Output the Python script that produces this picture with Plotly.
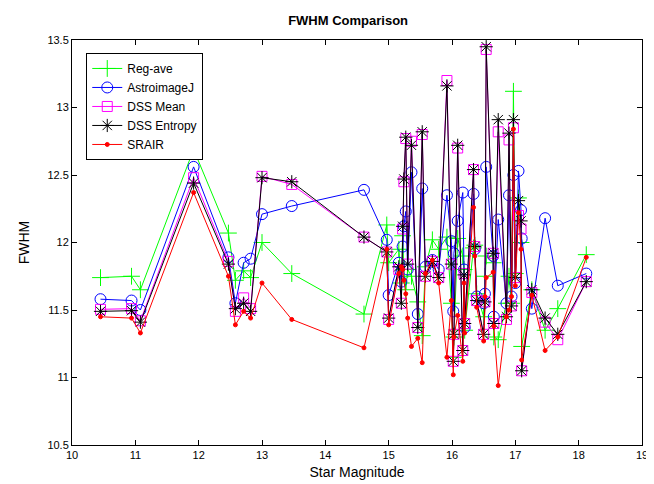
import plotly.graph_objects as go

# star magnitudes (x) and FWHM per method
mag = [10.45, 10.94, 11.08, 11.92, 12.47, 12.58, 12.71, 12.82, 13.00, 13.47,
       14.61, 14.97, 15.00, 15.16, 15.20, 15.22, 15.24, 15.27, 15.30, 15.36,
       15.46, 15.53, 15.58, 15.69, 15.79, 15.92, 15.99, 16.02, 16.03, 16.09,
       16.17, 16.19, 16.20, 16.34, 16.36, 16.39, 16.50, 16.52, 16.54, 16.65,
       16.66, 16.73, 16.86, 16.90, 16.94, 16.97, 17.00, 17.05, 17.09, 17.10,
       17.26, 17.47, 17.67, 18.12]

reg_ave = [11.74, 11.75, 11.65, 12.69, 12.07, 11.72, 11.79, 11.74, 12.00, 11.77,
           11.47, 12.13, 11.85, 11.95, 11.70, 12.05, 11.80, 11.65, 11.80, 11.75,
           11.56, 11.31, 11.82, 12.02, 11.95, 12.04, 11.55, 11.15, 11.30, 12.03,
           11.90, 11.80, 11.35, 11.96, 11.98, 11.62, 11.45, 11.75, 11.90, 11.85,
           11.30, 11.28, 11.55, 11.75, 11.55, 13.12, 11.77, 12.33, 12.00, 11.23,
           11.65, 11.35, 11.51, 11.91]

astroimagej = [11.58, 11.57, 11.50, 12.56, 11.89, 11.55, 11.85, 11.88, 12.21, 12.27,
               12.39, 12.02, 11.61, 11.85, 11.71, 11.97, 12.12, 12.23, 11.80, 12.52,
               11.47, 12.40, 11.82, 11.87, 11.80, 12.35, 12.01, 11.49, 11.92, 12.16,
               12.37, 11.80, 11.37, 12.36, 11.95, 11.60, 11.55, 11.62, 12.56, 11.90,
               11.45, 12.17, 11.55, 12.35, 11.60, 12.50, 11.70, 12.53, 12.24, 12.03,
               11.51, 12.18, 11.68, 11.77]

dss_mean = [11.505, 11.51, 11.42, 12.48, 11.86, 11.49, 11.59, 11.51, 12.49, 12.43,
            12.04, 11.93, 11.43, 11.80, 11.55, 12.10, 12.45, 12.77, 11.84, 12.75,
            11.37, 12.80, 11.75, 11.86, 11.74, 13.20, 11.84, 11.12, 11.32, 12.70,
            11.20, 11.77, 11.40, 12.54, 11.97, 11.57, 11.32, 11.56, 13.43, 11.92,
            11.40, 12.82, 11.43, 12.76, 11.53, 12.85, 11.74, 12.20, 12.10, 11.05,
            11.63, 11.41, 11.28, 11.71]

dss_entropy = [11.49, 11.495, 11.41, 12.44, 11.84, 11.51, 11.55, 11.49, 12.48, 12.45,
               12.04, 11.93, 11.44, 11.82, 11.55, 12.12, 12.47, 12.78, 11.84, 12.72,
               11.37, 12.82, 11.75, 11.86, 11.74, 13.16, 11.84, 11.12, 11.32, 12.72,
               11.20, 11.76, 11.40, 12.54, 11.97, 11.57, 11.32, 11.56, 13.45, 11.92,
               11.40, 12.91, 11.45, 12.81, 11.53, 12.91, 11.74, 12.31, 12.16, 11.05,
               11.65, 11.44, 11.32, 11.71]

srair = [11.45, 11.44, 11.33, 12.37, 11.75, 11.39, 11.49, 11.44, 11.70, 11.43,
         11.22, 11.95, 11.39, 11.77, 11.82, 11.80, 11.72, 11.62, 11.44, 11.23,
         11.29, 11.11, 11.77, 11.87, 11.70, 11.15, 11.57, 11.02, 11.30, 11.46,
         11.12, 11.70, 11.33, 12.26, 11.90, 11.52, 11.27, 11.60, 11.74, 11.78,
         11.38, 10.94, 11.45, 11.50, 11.60, 12.84, 11.68, 12.22, 11.95, 11.13,
         11.61, 11.20, 11.30, 11.89]

x_ticks = [10, 11, 12, 13, 14, 15, 16, 17, 18, 19]
y_ticks = [10.5, 11, 11.5, 12, 12.5, 13, 13.5]
y_labels = ['10.5', '11', '11.5', '12', '12.5', '13', '13.5']

series = [
    ('Reg-ave', reg_ave, '#00ff00', 'cross-thin-open', 12),
    ('AstroimageJ', astroimagej, '#0000ff', 'circle-open', 11),
    ('DSS Mean', dss_mean, '#ff00ff', 'square-open', 10),
    ('DSS Entropy', dss_entropy, '#000000', 'asterisk-open', 11),
    ('SRAIR', srair, '#ff0000', 'circle', 4),
]

fig = go.Figure()
for name, vals, col, sym, sz in series:
    fig.add_trace(go.Scatter(
        x=mag, y=vals, name=name, mode='lines+markers',
        line=dict(color=col, width=1),
        marker=dict(symbol=sym, size=sz, color=col, line=dict(color=col, width=1)),
    ))

axis_style = dict(showline=True, linecolor='black', linewidth=1, mirror='ticks',
                  ticks='inside', ticklen=5, tickcolor='black', showgrid=False,
                  zeroline=False, tickfont=dict(size=11, color='black'))

fig.update_xaxes(range=[10, 19], tickvals=x_ticks,
                 title=dict(text='Star Magnitude', font=dict(size=14, color='black'), standoff=6),
                 **axis_style)
fig.update_yaxes(range=[10.5, 13.5], tickvals=y_ticks, ticktext=y_labels,
                 title=dict(text='FWHM', font=dict(size=14, color='black'), standoff=14), **axis_style)

fig.update_layout(
    width=654, height=484,
    margin=dict(l=64, r=20, t=32, b=47),
    paper_bgcolor='white', plot_bgcolor='white',
    font=dict(family='Liberation Sans, Arial, sans-serif', color='black'),
    title=dict(text='<b>FWHM Comparison</b>', x=0.52, xanchor='center', y=0.975, yanchor='middle',
               font=dict(size=13, color='black')),
    legend=dict(x=0.025, y=0.968, xanchor='left', yanchor='top', bgcolor='white',
                bordercolor='black', borderwidth=1, font=dict(size=12), tracegroupgap=0,
                itemwidth=30),
)

fig.write_html("out.html")
